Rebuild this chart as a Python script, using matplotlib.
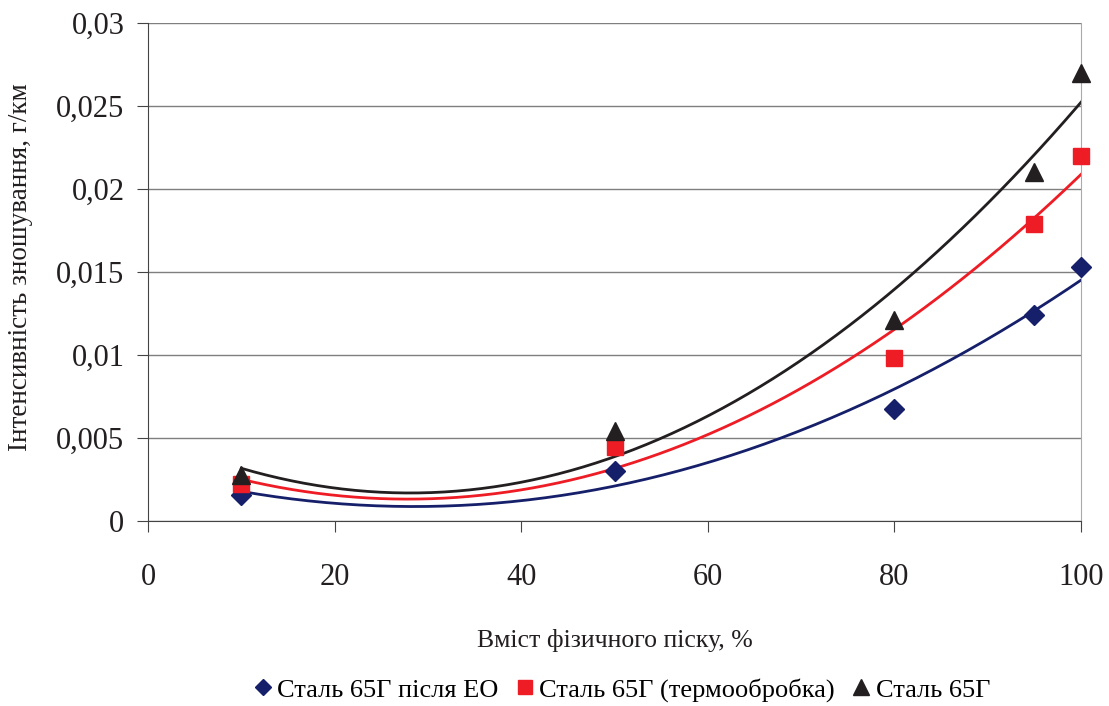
import numpy as np
import matplotlib.pyplot as plt

plt.rcParams['font.family'] = ['Liberation Serif', 'DejaVu Serif']

# Data
sand = [10, 50, 80, 95, 100]
steel_eo = [0.00157, 0.0030, 0.00675, 0.0124, 0.0153]
steel_heat = [0.0022, 0.00446, 0.0098, 0.0179, 0.0220]
steel_plain = [0.0028, 0.0054, 0.0121, 0.0210, 0.0270]

labels = ["Сталь 65Г після ЕО", "Сталь 65Г (термообробка)", "Сталь 65Г"]
colors = ["#16206a", "#ee1c25", "#231f20"]
markers = ["D", "s", "^"]
sizes = [10, 12, 13]

fig = plt.figure(figsize=(11.09, 7.06), dpi=100)
ax = fig.add_axes([148 / 1109, 1 - 521 / 706, (1081 - 148) / 1109, (521 - 23) / 706])

x_fit = np.linspace(10, 100, 200)
for y, lab, c, m, s in zip([steel_eo, steel_heat, steel_plain], labels, colors, markers, sizes):
    # quadratic trendline, like the original spreadsheet
    coef = np.polyfit(sand, y, 2)
    ax.plot(x_fit, np.polyval(coef, x_fit), color=c, lw=2, zorder=2)
    ax.plot(sand, y, linestyle="none", marker=m, color=c, markersize=s, label=lab,
            zorder=3, clip_on=False)

ax.set_xlim(0, 100)
ax.set_ylim(0, 0.03)
ax.set_xticks([0, 20, 40, 60, 80, 100])
ax.set_yticks([0, 0.005, 0.01, 0.015, 0.02, 0.025, 0.03])
ax.set_yticklabels(["0", "0,005", "0,01", "0,015", "0,02", "0,025", "0,03"])
ax.tick_params(labelsize=22, direction="out", length=8, color="#444444", colors="#231f20")
ax.tick_params(axis="x", pad=22)
ax.tick_params(axis="y", pad=9)
ax.grid(axis="y", color="#7f7f7f", lw=1)
ax.set_axisbelow(True)
ax.spines["top"].set_visible(False)
ax.spines["right"].set_color("#aaaaaa")
ax.spines["left"].set_color("#444444")
ax.spines["bottom"].set_color("#444444")

ax.set_xlabel("Вміст фізичного піску, %", fontsize=18.5, color="#231f20")
ax.set_ylabel("Інтенсивність зношування, г/км", fontsize=19.5, color="#231f20")
ax.xaxis.set_label_coords(0.5, -0.217)
ax.yaxis.set_label_coords(-0.123, 0.51)

fig.legend(loc="center", bbox_to_anchor=(0.559, 1 - 690 / 706), ncol=3, frameon=False,
           fontsize=19, handletextpad=0.05, columnspacing=0.5, handlelength=1.0, markerscale=0.85)

fig.savefig("out.png", dpi=100)
